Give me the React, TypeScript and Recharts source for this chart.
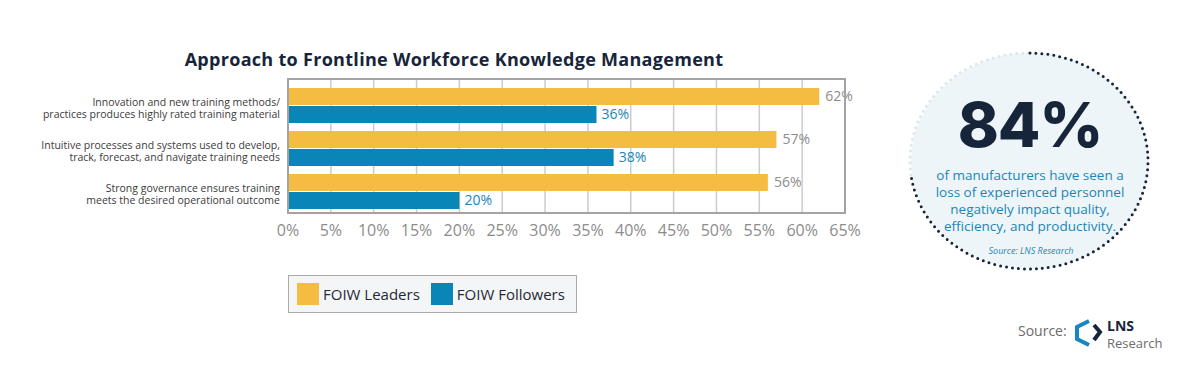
import { BarChart, Bar, XAxis, YAxis, CartesianGrid, LabelList, Legend } from 'recharts';

// ---------------------------------------------------------------------------
// Data
// ---------------------------------------------------------------------------

const categories = [
  'Innovation and new training methods/\npractices produces highly rated training material',
  'Intuitive processes and systems used to develop,\ntrack, forecast, and navigate training needs',
  'Strong governance ensures training\nmeets the desired operational outcome',
];
const seriesNames = ['FOIW Leaders', 'FOIW Followers'];
const leaders = [62, 57, 56];
const followers = [36, 38, 20];
const xTicks = [0, 5, 10, 15, 20, 25, 30, 35, 40, 45, 50, 55, 60, 65];

const calloutLines = [
  'of manufacturers have seen a',
  'loss of experienced personnel',
  'negatively impact quality,',
  'efficiency, and productivity.',
];

const data = categories.map((category, i) => ({
  category,
  leaders: leaders[i],
  followers: followers[i],
}));

// ---------------------------------------------------------------------------
// Style
// ---------------------------------------------------------------------------

const FONT = '"Open Sans", "Noto Sans", sans-serif';
const YELLOW = '#F4BD41';
const BLUE = '#0A85B7';
const NAVY = '#17253A';
const GRAY_TEXT = '#8C8C8C';

function CategoryTick({ y, payload }: any) {
  const lines = String(payload.value).split('\n');
  return (
    <text x={280} y={y} textAnchor="end" fontSize={10.5} fill="#3b3b3b" fontFamily={FONT}>
      {lines.map((line, i) => (
        <tspan key={i} x={280} dy={i === 0 ? 0 : 12}>
          {line}
        </tspan>
      ))}
    </text>
  );
}

function LegendBox({ payload }: any) {
  const items = [...(payload || [])].sort(
    (a: any, b: any) => seriesNames.indexOf(a.value) - seriesNames.indexOf(b.value)
  );
  return (
    <div
      style={{
        display: 'flex',
        alignItems: 'center',
        width: 289,
        height: 38,
        boxSizing: 'border-box',
        border: '1.5px solid #aaaaaa',
        background: '#f3f5f7',
        paddingLeft: 8,
        fontFamily: FONT,
        fontSize: 15,
        color: '#1f2a36',
      }}
    >
      {items.map((p: any) => (
        <div key={p.value} style={{ display: 'flex', alignItems: 'center', marginRight: 11 }}>
          <span
            style={{ display: 'inline-block', width: 22, height: 22, background: p.color, marginRight: 4 }}
          />
          <span>{p.value}</span>
        </div>
      ))}
    </div>
  );
}

export default function App() {
  return (
    <div
      style={{
        position: 'fixed',
        left: 0,
        top: 0,
        width: 1200,
        height: 380,
        background: '#ffffff',
        overflow: 'hidden',
        fontFamily: FONT,
      }}
    >
      {/* Decorations: title, callout circle, source logo */}
      <svg width={1200} height={380} style={{ position: 'absolute', left: 0, top: 0 }}>
        <text
          x={454}
          y={66}
          textAnchor="middle"
          fontSize={18}
          letterSpacing={0.3}
          fontWeight={700}
          fill={NAVY}
          fontFamily={FONT}
        >
          Approach to Frontline Workforce Knowledge Management
        </text>

        <ellipse cx={1030} cy={161} rx={119} ry={108} fill="#eef5f8" />
        <path
          d="M 911 175 A 119 108 0 0 1 1030 53"
          fill="none"
          stroke="#dce7ec"
          strokeWidth={3}
          strokeDasharray="0 6"
          strokeLinecap="round"
        />
        <path
          d="M 1030 53 A 119 108 0 1 1 911 175"
          fill="none"
          stroke={NAVY}
          strokeWidth={3}
          strokeDasharray="0 6"
          strokeLinecap="round"
        />
        <text
          x={1030}
          y={147}
          textAnchor="middle"
          fontSize={62}
          fontWeight={800}
          letterSpacing={-1}
          fill={NAVY}
          fontFamily="Inter, sans-serif"
        >
          84%
        </text>
        {calloutLines.map((line, i) => (
          <text key={i} x={1030} y={180 + i * 17} textAnchor="middle" fontSize={13.5} fill="#1a86b5" fontFamily={FONT}>
            {line}
          </text>
        ))}
        <text x={1031} y={254} textAnchor="middle" fontSize={9} fontStyle="italic" fill="#1a86b5" fontFamily={FONT}>
          Source: LNS Research
        </text>

        <text x={1018} y={336} fontSize={14} fill="#6b6b6b" fontFamily={FONT}>
          Source:
        </text>
        <polyline points="1089,321 1077,327 1077,339 1089,345" fill="none" stroke="#1a86c0" strokeWidth={4} />
        <polyline points="1094,325 1100,332 1094,340" fill="none" stroke={NAVY} strokeWidth={4} />
        <text x={1107} y={331} fontSize={14} fontWeight={700} fill={NAVY} fontFamily={FONT}>
          LNS
        </text>
        <text x={1107} y={348} fontSize={13} fill="#6b6b6b" fontFamily={FONT}>
          Research
        </text>
      </svg>

      {/* Plot border */}
      <div
        style={{
          position: 'absolute',
          left: 287,
          top: 78,
          width: 559,
          height: 136,
          boxSizing: 'border-box',
          border: '2.5px solid #a3a3a3',
          pointerEvents: 'none',
          zIndex: 2,
        }}
      />

      <div style={{ position: 'absolute', left: 0, top: 0 }}>
        <BarChart
          width={880}
          height={330}
          data={data}
          layout="vertical"
          margin={{ top: 78, right: 35, left: 0, bottom: 87 }}
          barSize={17}
          barGap={1}
        >
          <CartesianGrid horizontal={false} stroke="#cccccc" strokeWidth={1.5} />
          <XAxis
            type="number"
            domain={[0, 65]}
            ticks={xTicks}
            tickFormatter={(v: number) => `${v}%`}
            axisLine={false}
            tickLine={false}
            tickMargin={6}
            height={30}
            tick={{ fill: GRAY_TEXT, fontSize: 16, fontFamily: FONT }}
            interval={0}
          />
          <YAxis
            type="category"
            dataKey="category"
            width={288}
            axisLine={false}
            tickLine={false}
            padding={{ top: 6, bottom: 0 }}
            tick={<CategoryTick />}
            interval={0}
          />
          <Legend
            verticalAlign="middle"
            align="center"
            layout="horizontal"
            content={<LegendBox />}
            wrapperStyle={{ left: 288, top: 275, width: 'auto' }}
          />
          <Bar dataKey="leaders" name={seriesNames[0]} fill={YELLOW} isAnimationActive={false}>
            <LabelList
              dataKey="leaders"
              position="right"
              offset={6}
              formatter={(v: any) => `${v}%`}
              fill={GRAY_TEXT}
              fontSize={14}
              fontFamily={FONT}
            />
          </Bar>
          <Bar dataKey="followers" name={seriesNames[1]} fill={BLUE} isAnimationActive={false}>
            <LabelList
              dataKey="followers"
              position="right"
              offset={5}
              formatter={(v: any) => `${v}%`}
              fill="#1a86b5"
              fontSize={14}
              fontFamily={FONT}
            />
          </Bar>
        </BarChart>
      </div>
    </div>
  );
}
